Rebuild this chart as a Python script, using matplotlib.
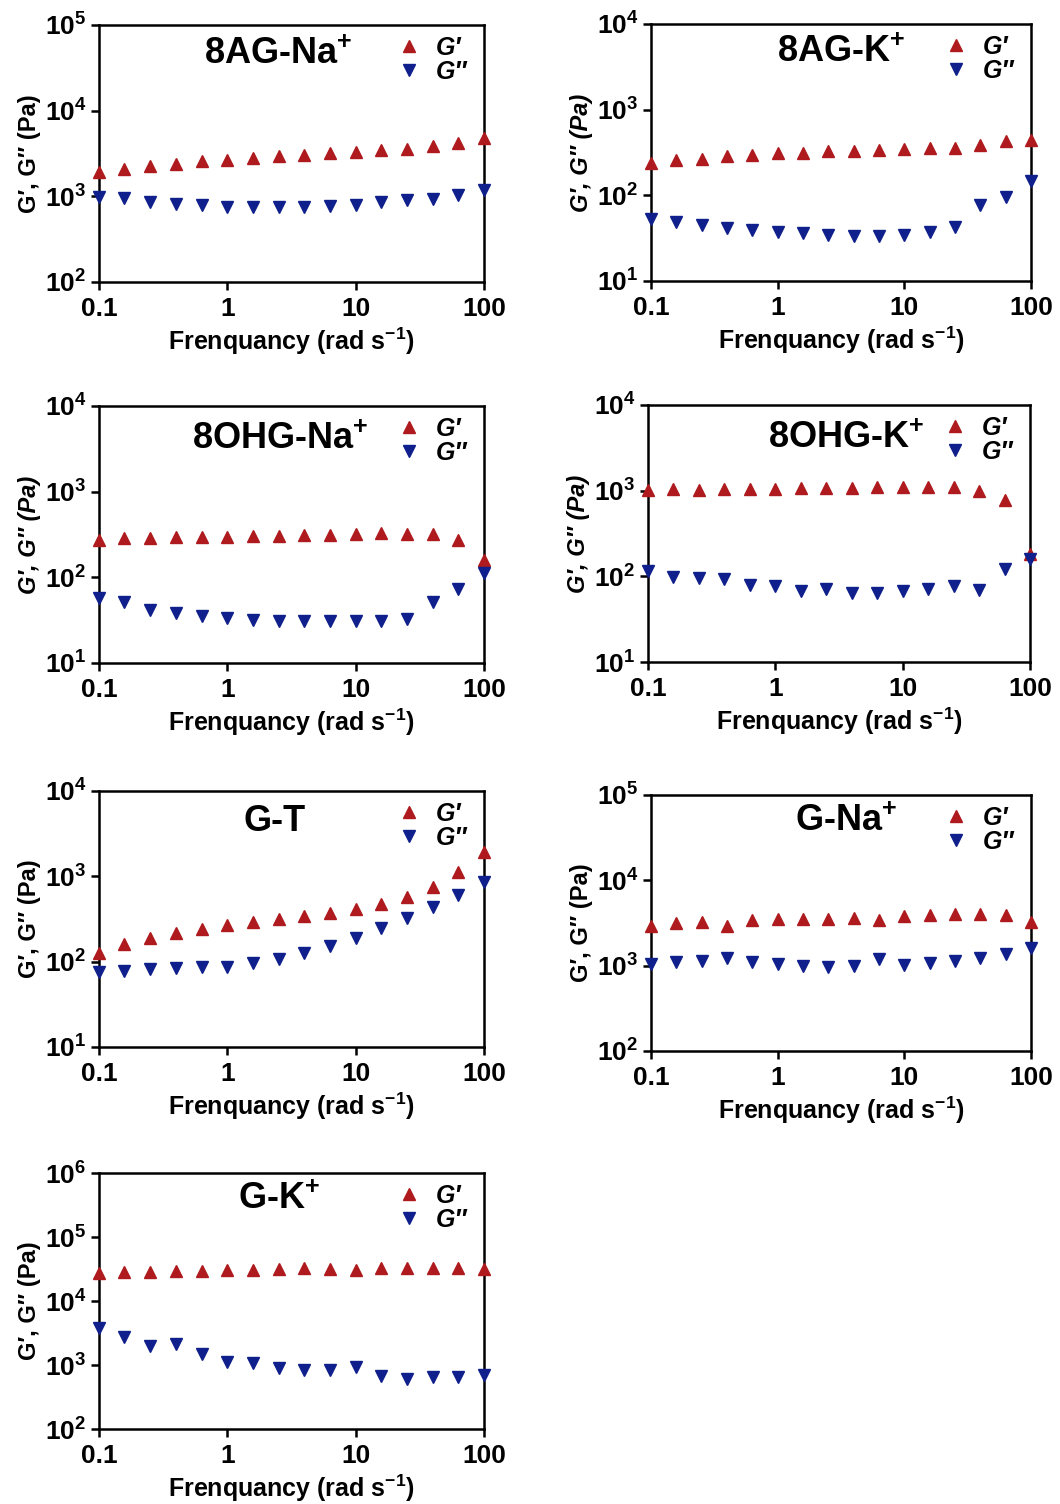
import numpy as np
import matplotlib
matplotlib.use("Agg")
import matplotlib.pyplot as plt
from matplotlib.ticker import FixedLocator, FuncFormatter, NullLocator
from matplotlib.lines import Line2D

plt.rcParams['font.family'] = ['Liberation Sans', 'DejaVu Sans']
plt.rcParams['mathtext.fontset'] = 'custom'
plt.rcParams['mathtext.rm'] = 'Liberation Sans:bold'
plt.rcParams['mathtext.bf'] = 'Liberation Sans:bold'
plt.rcParams['mathtext.it'] = 'Liberation Sans:bold:italic'
plt.rcParams['mathtext.default'] = 'bf'

# ---------------- data ----------------
freq = [0.1, 0.158, 0.251, 0.398, 0.631, 1.0, 1.585, 2.512, 3.981, 6.31,
        10.0, 15.85, 25.12, 39.81, 63.1, 100.0]

titles = ["8AG-Na$^{+}$", "8AG-K$^{+}$", "8OHG-Na$^{+}$", "8OHG-K$^{+}$",
          "G-T", "G-Na$^{+}$", "G-K$^{+}$"]

g1_8AG_Na = [1930, 2110, 2270, 2415, 2570, 2690, 2810, 2940, 3050, 3190,
             3300, 3460, 3580, 3850, 4210, 4860]
g2_8AG_Na = [985, 968, 861, 823, 787, 753, 753, 753, 753, 773,
             794, 861, 900, 925, 1030, 1180]

g1_8AG_K = [241, 257, 269, 286, 299, 308, 316, 328, 331, 340,
            349, 355, 361, 392, 429, 441]
g2_8AG_K = [53.5, 48.5, 44.7, 42, 39.8, 37.7, 36.4, 34.8, 33.6, 33.9,
            34.5, 37, 42.8, 78, 96, 147]

g1_8OHG_Na = [271, 289, 289, 292, 297, 297, 302, 305, 310, 316,
              319, 325, 319, 319, 271, 158]
g2_8OHG_Na = [58, 51.6, 41.2, 38.4, 35.1, 33.6, 32.1, 30.7, 30.7, 31,
              31, 31, 33, 51, 74, 111]

g1_8OHG_K = [1014, 1033, 1014, 1042, 1052, 1052, 1071, 1071, 1071, 1099,
             1109, 1109, 1090, 988, 775, 184]
g2_8OHG_K = [115, 98.5, 96, 92.5, 78.7, 76.6, 67.6, 70.6, 64.6, 64.6,
             67, 70.6, 76.6, 70, 121, 161]

g1_GT = [128, 161, 188, 215, 239, 269, 294, 313, 346, 375,
         414, 473, 577, 742, 1109, 1935]
g2_GT = [76, 78.7, 81.6, 83.8, 86.1, 87.7, 96, 108, 128, 153,
         188, 246, 322, 441, 603, 848]

g1_G_Na = [2917, 3133, 3220, 2944, 3428, 3524, 3491, 3524, 3589, 3428,
           3819, 3926, 4030, 4030, 3926, 3280]
g2_G_Na = [1037, 1114, 1145, 1219, 1094, 1047, 991, 973, 1000, 1186,
           1018, 1064, 1135, 1241, 1358, 1597]

g1_G_K = [26980, 27990, 27990, 29370, 29720, 30400, 30400, 31550, 32270, 31190,
          30400, 32270, 32270, 32270, 32270, 31550]
g2_G_K = [3750, 2780, 1990, 2110, 1493, 1120, 1069, 893, 841, 821,
          914, 662, 608, 638, 638, 686]

gprime = [g1_8AG_Na, g1_8AG_K, g1_8OHG_Na, g1_8OHG_K, g1_GT, g1_G_Na, g1_G_K]
gdouble = [g2_8AG_Na, g2_8AG_K, g2_8OHG_Na, g2_8OHG_K, g2_GT, g2_G_Na, g2_G_K]

y_exp_ranges = [(2, 5), (1, 4), (1, 4), (1, 4), (1, 4), (2, 5), (2, 6)]
x_ticks = [0.1, 1, 10, 100]
x_ticklabels = ["0.1", "1", "10", "100"]

# ---------------- layout / style ----------------
W, H = 1060, 1504
boxes = [(99, 25, 484, 282), (651, 24, 1031, 281),
         (99, 406, 484, 663), (648, 405, 1030, 662),
         (99, 791, 484, 1047), (651, 795, 1031, 1051),
         (99, 1173, 484, 1429)]
title_pos = [(0.465, 0.885), (0.50, 0.89), (0.47, 0.87), (0.52, 0.87),
             (0.455, 0.88), (0.513, 0.895), (0.467, 0.895)]
italic_ylabel = [False, True, True, True, False, False, False]

red = '#AE1A1D'
blue = '#0F1F8C'

fig = plt.figure(figsize=(W / 100, H / 100), dpi=100)

for i in range(7):
    l, t, r, b = boxes[i]
    ax = fig.add_axes([l / W, 1 - b / H, (r - l) / W, (b - t) / H])
    ax.set_xscale('log')
    ax.set_yscale('log')
    ax.plot(freq, gprime[i], linestyle='none', marker='^', ms=9,
            color=red, mec=red, clip_on=False, zorder=3)
    ax.plot(freq, gdouble[i], linestyle='none', marker='v', ms=9,
            color=blue, mec=blue, clip_on=False, zorder=3)
    lo, hi = y_exp_ranges[i]
    ax.set_xlim(0.1, 100)
    ax.set_ylim(10 ** lo, 10 ** hi)
    ax.xaxis.set_major_locator(FixedLocator(x_ticks))
    ax.xaxis.set_minor_locator(NullLocator())
    ax.set_xticklabels(x_ticklabels)
    yt = [10 ** e for e in range(lo, hi + 1)]
    ax.yaxis.set_major_locator(FixedLocator(yt))
    ax.yaxis.set_minor_locator(NullLocator())
    ax.yaxis.set_major_formatter(FuncFormatter(
        lambda v, p: r'$\mathbf{10^{%d}}$' % int(round(np.log10(v)))))
    for s in ax.spines.values():
        s.set_linewidth(1.8)
    ax.tick_params(axis='both', which='major', direction='out', length=6,
                   width=1.8, labelsize=19, pad=3)
    ax.tick_params(axis='x', pad=5)
    for lab in ax.get_xticklabels() + ax.get_yticklabels():
        lab.set_fontweight('bold')
    ax.set_xlabel("Frenquancy (rad s$^{-1}$)", fontsize=18, fontweight='bold',
                  labelpad=3)
    ax.set_ylabel("G′, G″ (Pa)", fontsize=17, fontweight='bold',
                  style='italic' if italic_ylabel[i] else 'normal', labelpad=3)
    ax.text(title_pos[i][0], title_pos[i][1], titles[i], transform=ax.transAxes,
            ha='center', va='center', fontsize=26, fontweight='bold')
    handles = [Line2D([], [], linestyle='none', marker='^', ms=8, color=red),
               Line2D([], [], linestyle='none', marker='v', ms=8, color=blue)]
    ax.legend(handles, ["G′", "G″"], loc='upper right', frameon=False,
              prop={'style': 'italic', 'weight': 'bold', 'size': 18},
              handletextpad=0.45, labelspacing=0.0, borderaxespad=0.2,
              handlelength=1.2, bbox_to_anchor=(0.995, 1.015))

fig.savefig("out.png", dpi=100, facecolor='white')
